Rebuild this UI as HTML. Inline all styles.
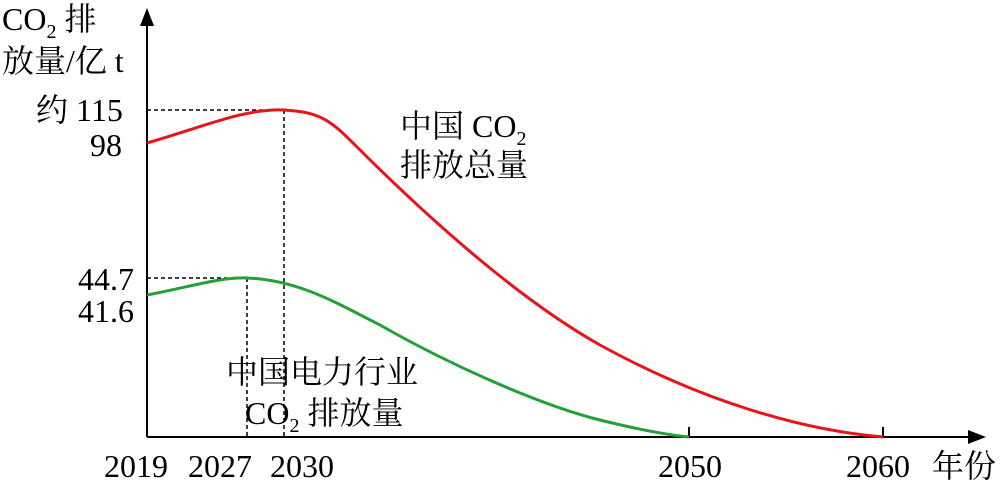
<!DOCTYPE html>
<html><head><meta charset="utf-8"><style>
html,body{margin:0;padding:0;background:#fff;}
svg text{font-family:"Liberation Serif","Noto Serif CJK SC",serif;font-size:32px;fill:#000;}
svg text.c{font-size:33px;}
</style></head><body>
<svg width="1000" height="490" viewBox="0 0 1000 490" xmlns="http://www.w3.org/2000/svg">
<line x1="147" y1="437" x2="147" y2="22" stroke="#000" stroke-width="2"/>
<polygon points="147,8 140,26 154,26" fill="#000"/>
<line x1="147" y1="437" x2="970" y2="437" stroke="#000" stroke-width="2"/>
<polygon points="986,437 968,430 968,444" fill="#000"/>
<line x1="689" y1="437" x2="689" y2="427" stroke="#000" stroke-width="2"/>
<line x1="883" y1="437" x2="883" y2="427" stroke="#000" stroke-width="2"/>
<g stroke="#000" stroke-width="1.5" stroke-dasharray="4,3" fill="none">
<line x1="147" y1="110" x2="284" y2="110"/><line x1="284" y1="110" x2="284" y2="437"/>
<line x1="147" y1="278" x2="247" y2="278"/><line x1="247" y1="278" x2="247" y2="437"/>
</g>
<path d="M147,143 C200,128 245,108 284,110 C320,112 330,120 355,145 C430,220 520,300 600,345 C700,400 800,430 883,437" stroke="#e8141c" stroke-width="3" fill="none"/>
<path d="M147,295 C190,287 220,277 247,278 C300,280 340,305 380,325 C450,365 540,405 600,420 C640,430 670,435 689,437" stroke="#23a038" stroke-width="3" fill="none"/>
<text x="2" y="30">CO<tspan font-size="20" dy="8">2</tspan><tspan dy="-8"> 排</tspan></text>
<text x="2" y="72">放量/亿 t</text>
<text x="36" y="121">约 115</text>
<text x="90" y="156">98</text>
<text x="78" y="290">44.7</text>
<text x="78" y="322">41.6</text>
<text x="400" y="137">中国 CO<tspan font-size="20" dy="8">2</tspan></text>
<text x="400" y="176">排放总量</text>
<text x="226" y="383">中国电力行业</text>
<text x="245" y="424">CO<tspan font-size="20" dy="8">2</tspan><tspan dy="-8"> 排放量</tspan></text>
<text x="104" y="477">2019</text>
<text x="188" y="477">2027</text>
<text x="270" y="477">2030</text>
<text x="658" y="477">2050</text>
<text x="846" y="477">2060</text>
<text x="932" y="477">年份</text>
</svg>
</body></html>
